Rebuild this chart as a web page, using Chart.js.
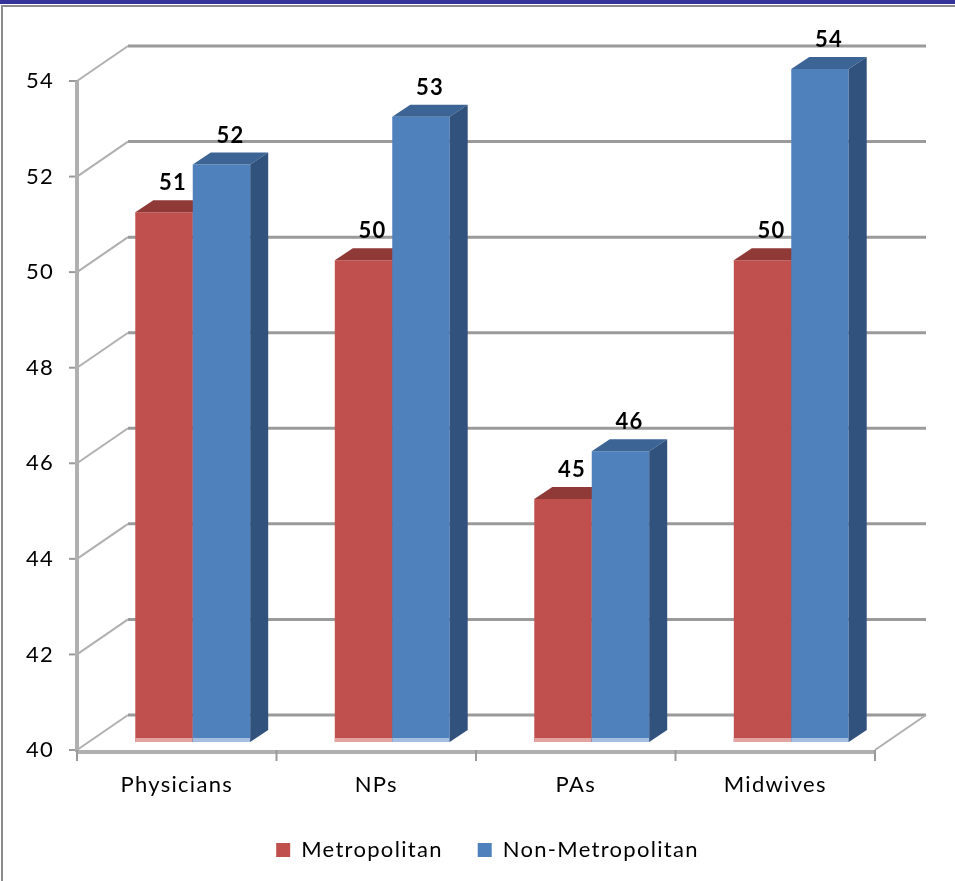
<!DOCTYPE html>
<html>
<head>
<meta charset="utf-8">
<script src="https://cdn.jsdelivr.net/npm/chart.js@4.4.0/dist/chart.umd.min.js"></script>
<style>
html, body { margin: 0; padding: 0; background: #fff; }
#wrap { width: 955px; height: 881px; }
</style>
</head>
<body>
<div id="wrap"><canvas id="chart" width="955" height="881"></canvas></div>
<script>
// Données
const categories = ["Physicians", "NPs", "PAs", "Midwives"];
const seriesNames = ["Metropolitan", "Non-Metropolitan"];
const metroValues = [51, 50, 45, 50];
const nonMetroValues = [52, 53, 46, 54];
const yMin = 40;
const yMax = 54;
const yStep = 2;

// Couleurs (face avant, dessus, côté)
const faceColors = ["#C0504D", "#4F81BD"];
const topColors = ["#903A38", "#3C6495"];
const sideColors = ["#86302E", "#30527C"];
const footColors = ["#E2A3A1", "#A3BEE0"];

// Effet 3D
const DEPTH = { x: 51, y: -35 };     // fond du graphique
const BAR_OFF = { x: 16, y: -12 };   // plan avant des barres
const BAR_DEPTH = { x: 18, y: -12 }; // épaisseur des barres

const FONT = "Lato, 'Open Sans', sans-serif";
const SPACING = "1.3px";

function line(ctx, x1, y1, x2, y2, color, w) {
    ctx.beginPath();
    ctx.moveTo(x1, y1);
    ctx.lineTo(x2, y2);
    ctx.strokeStyle = color;
    ctx.lineWidth = w;
    ctx.stroke();
}

function poly(ctx, pts, color) {
    ctx.beginPath();
    ctx.moveTo(pts[0][0], pts[0][1]);
    for (let i = 1; i < pts.length; i++) ctx.lineTo(pts[i][0], pts[i][1]);
    ctx.closePath();
    ctx.fillStyle = color;
    ctx.fill();
}

const frame3d = {
    id: "frame3d",
    beforeLayout(chart) {
        // texte un peu espacé comme l'original
        chart.ctx.letterSpacing = SPACING;
    },
    beforeDraw(chart) {
        const ctx = chart.ctx;
        ctx.letterSpacing = SPACING;
        ctx.save();
        ctx.fillStyle = "#fff";
        ctx.fillRect(0, 0, chart.width, chart.height);
        ctx.fillStyle = "#333399";
        ctx.fillRect(0, 0, chart.width, 4);
        ctx.strokeStyle = "#8c8c8c";
        ctx.lineWidth = 2;
        ctx.strokeRect(2, 6, chart.width + 10, chart.height + 10);
        ctx.restore();
    },
    beforeDatasetsDraw(chart) {
        const { ctx, chartArea: a } = chart;
        const y = chart.scales.y;
        ctx.save();

        // murs du fond et lignes de grille
        for (let v = yMin; v <= yMax; v += yStep) {
            const py = y.getPixelForValue(v);
            line(ctx, a.left, py, a.left + DEPTH.x, py + DEPTH.y, "#b0b0b0", 2);
            line(ctx, a.left + DEPTH.x, py + DEPTH.y, a.right + DEPTH.x, py + DEPTH.y, "#9a9a9a", 3);
            line(ctx, a.left - 8, py, a.left, py, "#9a9a9a", 2);
        }
        // sol
        line(ctx, a.right, a.bottom, a.right + DEPTH.x, a.bottom + DEPTH.y, "#b0b0b0", 2);
        line(ctx, a.left, a.bottom + 2, a.right, a.bottom + 2, "#b0b0b0", 4);
        // axe vertical
        line(ctx, a.left, a.top, a.left, a.bottom + 2, "#b0b0b0", 4);
        // graduations de l'axe X
        for (let k = 0; k <= categories.length; k++) {
            const px = a.left + k * (a.right - a.left) / categories.length;
            line(ctx, px, a.bottom, px, a.bottom + 11, "#9a9a9a", 2);
        }

        // barres 3D
        const basePx = y.getPixelForValue(yMin);
        chart.data.datasets.forEach((ds, di) => {
            const meta = chart.getDatasetMeta(di);
            meta.data.forEach((el) => {
                const x0 = el.x - el.width / 2 + BAR_OFF.x;
                const x1 = el.x + el.width / 2 + BAR_OFF.x;
                const top = el.y + BAR_OFF.y;
                const bot = basePx + BAR_OFF.y + 4;
                poly(ctx, [[x0, top], [x1, top], [x1, bot], [x0, bot]], faceColors[di]);
                poly(ctx, [[x0, bot - 4], [x1, bot - 4], [x1, bot], [x0, bot]], footColors[di]);
                poly(ctx, [[x0, top], [x0 + BAR_DEPTH.x, top + BAR_DEPTH.y],
                    [x1 + BAR_DEPTH.x, top + BAR_DEPTH.y], [x1, top]], topColors[di]);
                poly(ctx, [[x1, top], [x1 + BAR_DEPTH.x, top + BAR_DEPTH.y],
                    [x1 + BAR_DEPTH.x, bot + BAR_DEPTH.y], [x1, bot]], sideColors[di]);
            });
        });

        // étiquettes de valeurs
        ctx.font = "bold 22px " + FONT;
        ctx.fillStyle = "#000";
        ctx.textAlign = "center";
        ctx.textBaseline = "middle";
        chart.data.datasets.forEach((ds, di) => {
            const meta = chart.getDatasetMeta(di);
            meta.data.forEach((el, i) => {
                ctx.fillText(String(ds.data[i]), el.x + BAR_OFF.x + 9, el.y + BAR_OFF.y - 29);
            });
        });

        ctx.restore();
        return false;
    }
};

const ctx = document.getElementById("chart").getContext("2d");
new Chart(ctx, {
    type: "bar",
    data: {
        labels: categories,
        datasets: [
            {
                label: seriesNames[0],
                data: metroValues,
                backgroundColor: faceColors[0],
                borderWidth: 0,
                categoryPercentage: 0.576,
                barPercentage: 1
            },
            {
                label: seriesNames[1],
                data: nonMetroValues,
                backgroundColor: faceColors[1],
                borderWidth: 0,
                categoryPercentage: 0.576,
                barPercentage: 1
            }
        ]
    },
    options: {
        responsive: false,
        animation: false,
        devicePixelRatio: 1,
        layout: { padding: { left: 20, right: 0, top: 81, bottom: 10 } },
        plugins: {
            legend: {
                position: "bottom",
                labels: {
                    boxWidth: 14,
                    boxHeight: 14,
                    padding: 35,
                    color: "#000",
                    font: { family: FONT, size: 22 }
                }
            },
            tooltip: { enabled: false }
        },
        scales: {
            x: {
                grid: { display: false, drawTicks: false },
                border: { display: false },
                ticks: { padding: 22, color: "#000", font: { family: FONT, size: 22 } },
                afterFit(s) { s.height = 54; }
            },
            y: {
                min: yMin,
                max: yMax,
                grid: { display: false, drawTicks: false },
                border: { display: false },
                ticks: { stepSize: yStep, padding: 23, color: "#000", font: { family: FONT, size: 22 } },
                afterFit(s) { s.width = 57; }
            },
            y2: {
                position: "right",
                grid: { display: false, drawTicks: false },
                border: { display: false },
                ticks: { display: false },
                afterFit(s) { s.width = 80; }
            }
        }
    },
    plugins: [frame3d]
});
</script>
</body>
</html>
